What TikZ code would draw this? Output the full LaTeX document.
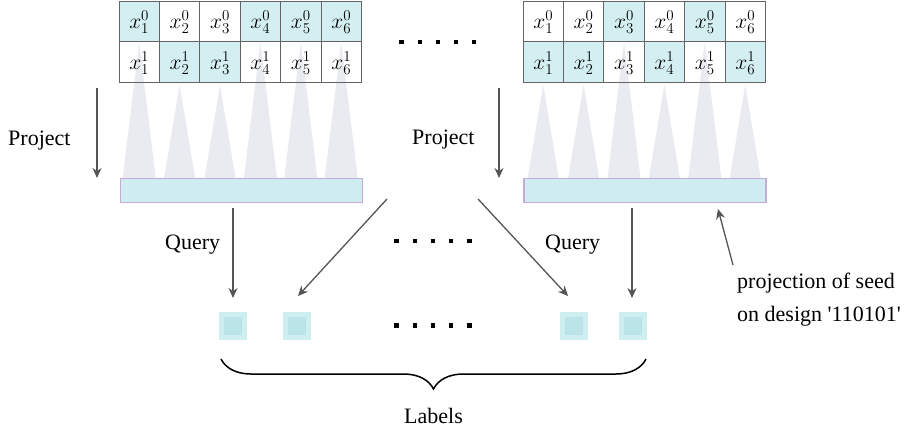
\documentclass[tikz,border=0pt]{standalone}
\usepackage{fix-cm}
\usepackage{fontspec}
\setmainfont{Liberation Serif}[Ligatures=TeX]
\usetikzlibrary{arrows.meta,decorations.pathreplacing}
\definecolor{cellcyan}{RGB}{212,239,241}
\definecolor{barcyan}{RGB}{207,237,240}
\definecolor{barline}{RGB}{196,172,214}
\definecolor{trigrey}{RGB}{233,235,240}
\definecolor{gridline}{RGB}{100,100,100}
\definecolor{arrowgrey}{RGB}{85,85,85}
\definecolor{sqouter}{RGB}{207,238,240}
\definecolor{sqinner}{RGB}{186,228,232}
\newcommand{\cellmath}[1]{{\fontsize{21.5}{26}\selectfont$#1$}}
\tikzset{
  cellfill/.style={fill=cellcyan, draw=none},
  tri/.style={fill=trigrey, draw=none},
  gridbox/.style={draw=gridline, line width=1pt},
  mathtxt/.style={inner sep=0pt},
  bar/.style={draw=barline, fill=barcyan, line width=1.5pt, minimum width=242pt, minimum height=24pt, inner sep=0pt, anchor=north west},
  arr/.style={draw=arrowgrey, line width=1.3pt, -{Stealth[length=10pt,width=9pt]}},
  lbl/.style={font=\fontsize{22}{26}\selectfont\rmfamily, inner sep=0pt, anchor=base west},
  sq/.style={fill=sqouter, draw=none, minimum size=28pt, inner sep=0pt},
  sqin/.style={fill=sqinner, draw=none, minimum size=18pt, inner sep=0pt},
  dotsq/.style={fill=black, draw=none, minimum size=4.5pt, inner sep=0pt}
}
\begin{document}
\begin{tikzpicture}[x=1pt,y=-1pt]
\useasboundingbox (0,0) rectangle (907,430);
% ---------- grids ----------
\def\cw{40.4}
\foreach \c in {1,4,5,6} \fill[cellfill] (119+\cw*\c-\cw,1.5) rectangle (119+\cw*\c,42);
\foreach \c in {2,3} \fill[cellfill] (119+\cw*\c-\cw,42) rectangle (119+\cw*\c,83);
\foreach \c in {3,5} \fill[cellfill] (523+\cw*\c-\cw,1.5) rectangle (523+\cw*\c,42);
\foreach \c in {1,2,4,6} \fill[cellfill] (523+\cw*\c-\cw,42) rectangle (523+\cw*\c,83);
% triangles left
\foreach \c in {1,4,5,6} \fill[tri] (119+\cw*\c-\cw/2,42) -- (119+\cw*\c-\cw/2+16.5,178) -- (119+\cw*\c-\cw/2-16.5,178) -- cycle;
\foreach \c in {2,3} \fill[tri] (119+\cw*\c-\cw/2,85) -- (119+\cw*\c-\cw/2+15.5,178) -- (119+\cw*\c-\cw/2-15.5,178) -- cycle;
% triangles right
\foreach \c in {3,5} \fill[tri] (523+\cw*\c-\cw/2,42) -- (523+\cw*\c-\cw/2+16.5,178) -- (523+\cw*\c-\cw/2-16.5,178) -- cycle;
\foreach \c in {1,2,4,6} \fill[tri] (523+\cw*\c-\cw/2,85) -- (523+\cw*\c-\cw/2+15.5,178) -- (523+\cw*\c-\cw/2-15.5,178) -- cycle;
% grid lines
\foreach \gx in {119,523}{
  \draw[gridbox] (\gx,1.5) rectangle (\gx+6*\cw,83);
  \draw[gridbox] (\gx,42) -- (\gx+6*\cw,42);
  \foreach \c in {1,...,5} \draw[gridbox] (\gx+\cw*\c,1.5) -- (\gx+\cw*\c,83);
}
% cell texts
\foreach \c in {1,...,6}{
  \node[mathtxt] (lt\c) at (119+\cw*\c-\cw/2,22) {\cellmath{x^0_{\c}}};
  \node[mathtxt] (lb\c) at (119+\cw*\c-\cw/2,63) {\cellmath{x^1_{\c}}};
  \node[mathtxt] (rt\c) at (523+\cw*\c-\cw/2,22) {\cellmath{x^0_{\c}}};
  \node[mathtxt] (rb\c) at (523+\cw*\c-\cw/2,63) {\cellmath{x^1_{\c}}};
}
% ---------- bars ----------
\node[bar] (barL) at (119.5,178) {};
\node[bar] (barR) at (523,178) {};
% ---------- dots ----------
\foreach \i in {0,...,4}{
  \node[dotsq] (dt\i) at (401.7+18.1*\i,42) {};
  \node[dotsq] (dm\i) at (396.7+18.15*\i,241) {};
  \node[dotsq] (db\i) at (396.7+18.15*\i,325.7) {};
}
% ---------- project ----------
\node[lbl] (projL) at (8,146) {Project};
\node[lbl] (projR) at (412,145) {Project};
\coordinate (pLa) at (97,88);  \coordinate (pLb) at (97,178);
\coordinate (pRa) at (499,88); \coordinate (pRb) at (499,178);
\draw[arr] (pLa) -- (pLb);
\draw[arr] (pRa) -- (pRb);
% ---------- label squares ----------
\node[sq] (s1) at (233,326) {};
\node[sq] (s2) at (297,326) {};
\node[sq] (s3) at (573.5,326) {};
\node[sq] (s4) at (632.5,326) {};
\foreach \s in {s1,s2,s3,s4} \node[sqin] (\s i) at (\s) {};
% ---------- query arrows ----------
\node[lbl] (qL) at (165,250) {Query};
\node[lbl] (qR) at (545,250) {Query};
\coordinate (q1a) at (233,208); \coordinate (q1b) at (233,298);
\coordinate (q2a) at (387,199); \coordinate (q2b) at (298,296);
\coordinate (q3a) at (478,199); \coordinate (q3b) at (568,296);
\coordinate (q4a) at (632,208); \coordinate (q4b) at (632,298);
\draw[arr] (q1a) -- (q1b);
\draw[arr] (q2a) -- (q2b);
\draw[arr] (q3a) -- (q3b);
\draw[arr] (q4a) -- (q4b);
% ---------- annotation ----------
\node[lbl] (ann1) at (737,288) {projection of seed};
\node[lbl] (ann2) at (737,321) {on design \textquotesingle 110101\textquotesingle};
\coordinate (anA) at (733,265); \coordinate (anB) at (718,209);
\draw[arr] (anA) -- (anB);
% ---------- brace ----------
\coordinate (brL) at (221,359); \coordinate (brR) at (646,359);
\draw[line width=1.5pt, decorate, decoration={brace, mirror, amplitude=30pt}] (brL) -- (brR);
\node[lbl, anchor=base] (labels) at (433.5,423) {Labels};
\end{tikzpicture}
\end{document}
